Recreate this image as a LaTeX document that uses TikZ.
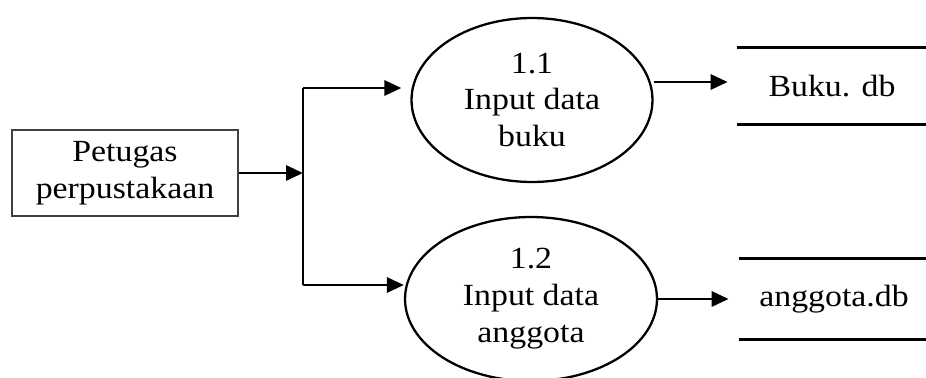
\documentclass[tikz,border=0pt]{standalone}
\usepackage{fontspec}
\setmainfont{Liberation Serif}[FakeStretch=1.1]
\usetikzlibrary{shapes.geometric,arrows.meta}
\begin{document}
\begin{tikzpicture}[x=0.02cm,y=-0.02cm]
        \tikzset{entity/.style = {draw=black!75,line width=0.9pt,minimum width=4.52cm,minimum height=1.72cm,align=center,font=\fontsize{17.5}{21}\selectfont}}
        \tikzset{process/.style = {draw,ellipse,line width=1.3pt,minimum height=3.28cm,align=center,font=\fontsize{17.5}{21}\selectfont}}
        \tikzset{store/.style = {minimum width=3.8cm,inner sep=0pt,font=\fontsize{17.5}{21}\selectfont}}
        \tikzset{flow/.style = {line width=1.7pt,-{Triangle[length=0.34cm,width=0.3cm]}}}
        \tikzset{storeline/.style = {line width=2pt}}

        \clip (0,0) rectangle (926,378);
        \useasboundingbox (0,0) rectangle (926,378);

        \node[entity] (petugas) at (125,173) {Petugas\\perpustakaan};

        \node[process,minimum width=4.82cm] (p1) at (532,100) {1.1\\Input data\\buku};
        \node[process,minimum width=5.04cm] (p2) at (531,299) {1.2\\Input data\\anggota};

        \node[store,minimum height=1.52cm] (buku) at (832,86) {Buku. db};
        \node[store,minimum height=1.6cm] (anggota) at (834,299) {anggota.db};

        \coordinate (jtop) at (303,88);
        \coordinate (jmid) at (303,173);
        \coordinate (jbot) at (303,285);

        % data store lines
        \draw[storeline] (buku.north west) -- (buku.north east);
        \draw[storeline] (buku.south west) -- (buku.south east);
        \draw[storeline] (anggota.north west) -- (anggota.north east);
        \draw[storeline] (anggota.south west) -- (anggota.south east);

        % flows
        \draw[flow] (petugas.east) -- (jmid);
        \draw[line width=1.7pt] (jtop) -- (jbot);
        \draw[flow,shorten >=0.18cm] (jtop) -- (jtop -| p1.west);
        \draw[flow] (jbot) -- (jbot -| p2.west);
        \draw[flow,shorten >=0.18cm] (p1.east |- 0,82) -- (buku.west |- 0,82);
        \draw[flow,shorten >=0.2cm] (p2.east) -- (anggota.west);
    \end{tikzpicture}
\end{document}
